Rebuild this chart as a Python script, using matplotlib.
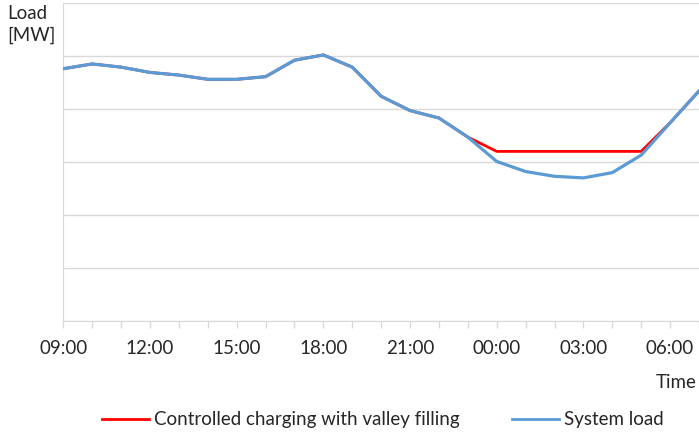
import matplotlib.pyplot as plt
from matplotlib.lines import Line2D

plt.rcParams['font.family'] = ['Lato', 'DejaVu Sans']

# Stunden ab 09:00 (0 = 09:00, 22 = 07:00 am Folgetag)
stunden = list(range(23))
zeit_labels = ["09:00", "12:00", "15:00", "18:00", "21:00", "00:00", "03:00", "06:00"]

# Systemlast (relative Einheiten, Gitterlinie = 1)
systemlast = [4.76, 4.85, 4.79, 4.69, 4.64, 4.56, 4.56, 4.61, 4.92, 5.02,
              4.79, 4.24, 3.97, 3.83, 3.47, 3.01, 2.82, 2.73, 2.70, 2.80,
              3.13, 3.74, 4.34]
# Gesteuertes Laden: Tal wird aufgefuellt
gesteuert = [4.76, 4.85, 4.79, 4.69, 4.64, 4.56, 4.56, 4.61, 4.92, 5.02,
             4.79, 4.24, 3.97, 3.83, 3.47, 3.20, 3.20, 3.20, 3.20, 3.20,
             3.20, 3.74, 4.34]

fs = 13.5
textfarbe = '#262626'

fig = plt.figure(figsize=(6.99, 4.33), dpi=100)
ax = fig.add_axes([63.3 / 699, 112 / 433, 1 - 63.3 / 699, 318 / 433])

rot = '#ff0000'
blau = '#5b9bd5'
grau = '#d9d9d9'

ax.plot(stunden, gesteuert, color=rot, linewidth=2.0, zorder=3)
ax.plot(stunden, systemlast, color=blau, linewidth=2.3, zorder=4)

ax.set_xlim(0, 21.88)
ax.set_ylim(0, 6)
ax.set_yticks(range(7))
ax.set_yticklabels([])
ax.tick_params(axis='y', length=0)
ax.grid(axis='y', color=grau, linewidth=1.0)
ax.set_axisbelow(True)

ax.set_xticks(stunden)
ax.set_xticklabels([zeit_labels[i // 3] if i % 3 == 0 else "" for i in stunden],
                   fontsize=fs, color=textfarbe)
ax.tick_params(axis='x', length=5, width=1.0, color=grau, pad=9)

for s in ['top', 'right']:
    ax.spines[s].set_visible(False)
ax.spines['left'].set_color(grau)
ax.spines['bottom'].set_color(grau)

fig.text(7 / 699, 1 - 5 / 433, "Load\n[MW]", fontsize=fs, color=textfarbe,
         va='top', ha='left', linespacing=1.3)
fig.text(697 / 699, 1 - 382 / 433, "Time", fontsize=fs, color=textfarbe,
         va='center', ha='right')

handles = [Line2D([], [], color=rot, linewidth=2.0),
           Line2D([], [], color=blau, linewidth=2.0)]
fig.legend(handles, ["Controlled charging with valley filling", "System load"],
           loc='center', bbox_to_anchor=(383 / 699, 1 - 420 / 433), ncol=2,
           frameon=False, fontsize=fs, handlelength=2.5, handletextpad=0.27,
           columnspacing=2.8, labelcolor=textfarbe)

fig.savefig("out.png", dpi=100)
